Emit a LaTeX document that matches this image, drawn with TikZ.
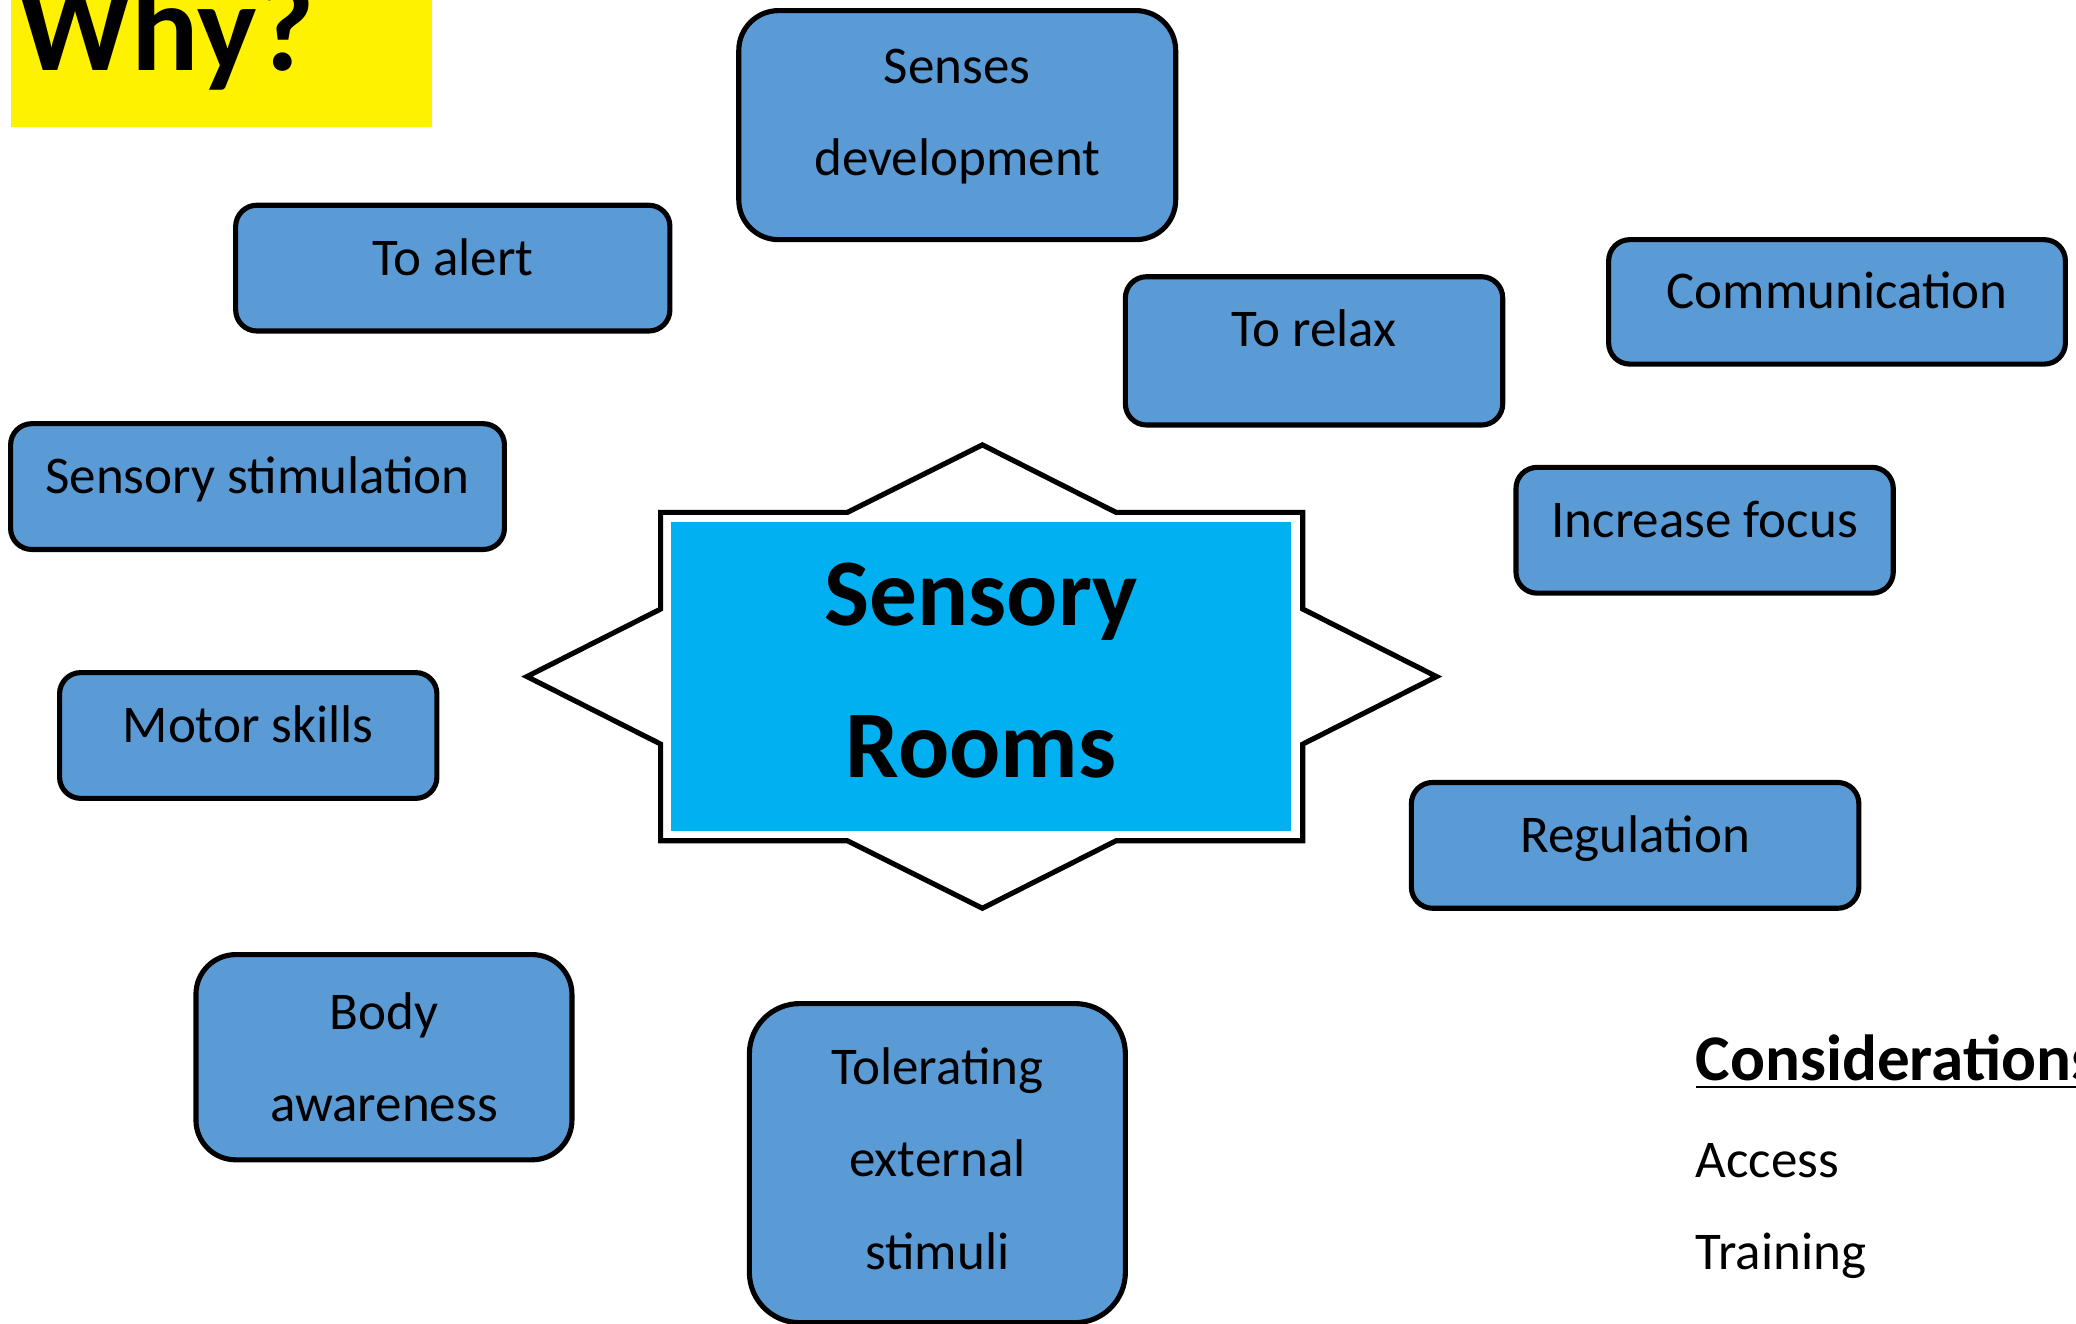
\documentclass[tikz,border=0pt]{standalone}
\usepackage{fontspec}
\setmainfont{Carlito}
\usepackage{xcolor}
\usepackage{tikz}

\definecolor{boxblue}{HTML}{5B9BD5}
\definecolor{hubcyan}{HTML}{00B0F0}

\tikzset{
  reason/.style={draw=black, fill=boxblue, line width=1.1pt, rounded corners=1.6mm,
    align=center, inner sep=0pt, font=\fontsize{11.4}{19.9}\selectfont},
  oneline/.style={reason, text height=8pt, text depth=5pt},
  bigreason/.style={reason, rounded corners=3mm}
}

\begin{document}
\begin{tikzpicture}[x=0.1mm, y=-0.1mm]
            \useasboundingbox (0,0) rectangle (1568,1000);
            % title
            \fill[yellow] (8,-5) rectangle (326,96);
            \node[anchor=base west, inner sep=0pt, font=\fontsize{27}{30}\selectfont\bfseries] (why) at (13,53) {Why?};
            % star behind the hub
            \draw[line width=1.1pt, fill=white] (398,511) -- (499,460) -- (499,387) -- (640,387) -- (742,336) -- (843,387) -- (984,387) -- (984,460) -- (1085,511) -- (984,562) -- (984,635) -- (843,635) -- (742,686) -- (640,635) -- (499,635) -- (499,562) -- cycle;
            \node[fill=hubcyan, minimum width=46.8mm, minimum height=23.4mm, align=center, inner sep=0pt, text depth=2.8pt,
                  font=\fontsize{20.5}{32.7}\selectfont\bfseries] (hub) at (741,511) {Sensory\\Rooms};
            % reasons
            \node[bigreason, minimum width=33mm, minimum height=17.3mm, text depth=5.5pt] (senses) at (723,94.5) {Senses\\development};
            \node[oneline, minimum width=32.8mm, minimum height=9.5mm] (alert) at (342,202.5) {To alert};
            \node[oneline, minimum width=28.5mm, minimum height=11.2mm, text depth=10pt] (relax) at (992.5,265) {To relax};
            \node[oneline, minimum width=34.5mm, minimum height=9.4mm] (comm) at (1387.5,228) {Communication};
            \node[oneline, minimum width=37.3mm, minimum height=9.5mm] (stim) at (194.5,367.5) {Sensory stimulation};
            \node[oneline, minimum width=28.5mm, minimum height=9.5mm] (focus) at (1287.5,400.5) {Increase focus};
            \node[oneline, minimum width=28.5mm, minimum height=9.5mm] (motor) at (187.5,555.5) {Motor skills};
            \node[oneline, minimum width=33.8mm, minimum height=9.5mm] (regul) at (1235,638.5) {Regulation};
            \node[bigreason, minimum width=28.4mm, minimum height=15.5mm] (body) at (290,798.5) {Body\\awareness};
            \node[bigreason, rounded corners=3.8mm, minimum width=28.4mm, minimum height=24.1mm, text depth=2pt] (toler) at (708,878.5) {Tolerating\\external\\stimuli};
            % considerations
            \node[anchor=base west, inner sep=0pt, font=\fontsize{14}{16}\selectfont\bfseries] (cons) at (1280,816) {\underline{Considerations}};
            \node[anchor=base west, inner sep=0pt, font=\fontsize{11.4}{14}\selectfont] (access) at (1280,889) {Access};
            \node[anchor=base west, inner sep=0pt, font=\fontsize{11.4}{14}\selectfont] (train) at (1280,959) {Training};
        \end{tikzpicture}
\end{document}
